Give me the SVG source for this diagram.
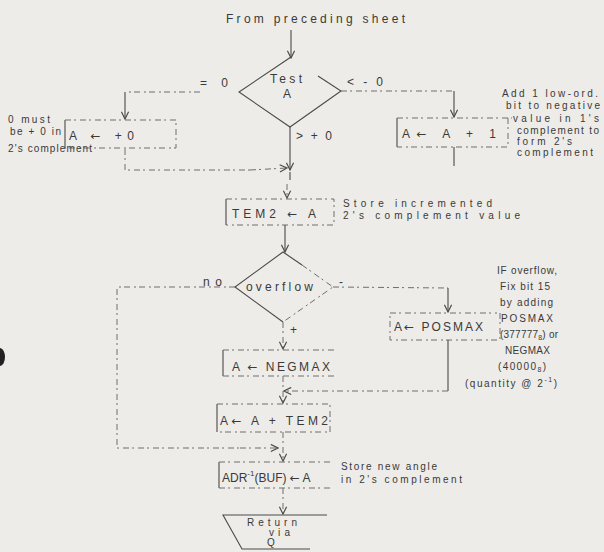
<svg xmlns="http://www.w3.org/2000/svg" width="604" height="552" viewBox="0 0 604 552">
  <style>
    .bg { fill: #edece8; }
    text { font-family: "Liberation Sans", "DejaVu Sans", sans-serif; fill: #3a3a3a; }
    .lbl { font-size: 12px; }
    .note { font-size: 10px; }
    .ar { font-family: "DejaVu Sans", sans-serif; }
    .solid { stroke: #4a4a4a; stroke-width: 1.1; fill: none; }
    .dash { stroke: #6e6e6e; stroke-width: 1; fill: none; stroke-dasharray: 6 3 2 4; }
    .arr { marker-end: url(#vhead); }
  </style>
  <defs>
    <marker id="vhead" viewBox="0 0 10 10" refX="9" refY="5" markerWidth="9" markerHeight="9" markerUnits="userSpaceOnUse" orient="auto">
      <path d="M1,1 L9,5 L1,9" fill="none" stroke="#4a4a4a" stroke-width="1.3"/>
    </marker>
  </defs>

  <rect class="bg" x="0" y="0" width="604" height="552"/>
  <!-- punch hole at the left margin -->
  <ellipse cx="0" cy="357" rx="5" ry="9" fill="#222"/>

  <text class="lbl" x="226" y="23" textLength="179" lengthAdjust="spacing">From preceding sheet</text>

  <!-- decision: Test A -->
  <g id="test-a">
    <path class="solid" d="M318,76 L341,91 L290,127 L239,92 L291,57"/>
    <text class="lbl" x="270" y="83" textLength="32" lengthAdjust="spacing">Test</text>
    <text class="lbl" x="283" y="98">A</text>
    <text class="lbl" x="200" y="87" textLength="28" lengthAdjust="spacing">=0</text>
    <text class="lbl" x="347" y="86" textLength="36" lengthAdjust="spacing">&lt;-0</text>
    <text class="lbl" x="296" y="140" textLength="36" lengthAdjust="spacing">&gt;+0</text>
  </g>

  <!-- A <- +0 -->
  <g id="set-plus-zero">
    <path class="solid" d="M65,120 L65,148"/>
    <path class="dash" d="M65,120 L176,120 L176,148 L65,148"/>
    <text class="lbl" x="69" y="140" textLength="65" lengthAdjust="spacing">A <tspan class="ar">←</tspan> +0</text>
    <text class="note" x="8" y="123" textLength="42" lengthAdjust="spacing">0 must</text>
    <text class="note" x="10" y="135" textLength="51" lengthAdjust="spacing">be + 0 in</text>
    <text class="note" x="8" y="152" textLength="84" lengthAdjust="spacing">2's complement</text>
  </g>

  <!-- A <- A + 1 -->
  <g id="add-one">
    <path class="solid" d="M397,118 L397,147"/>
    <path class="dash" d="M397,118 L512,118 M508,118 L508,147 L397,147"/>
    <text class="lbl" x="402" y="138" textLength="94" lengthAdjust="spacing">A<tspan class="ar">←</tspan> A  +  1</text>
    <text class="note" x="502" y="97" textLength="96" lengthAdjust="spacing">Add 1 low-ord.</text>
    <text class="note" x="506" y="109" textLength="94" lengthAdjust="spacing">bit to negative</text>
    <text class="note" x="513" y="122" textLength="86" lengthAdjust="spacing">value in 1's</text>
    <text class="note" x="517" y="134" textLength="82" lengthAdjust="spacing">complement to</text>
    <text class="note" x="517" y="145" textLength="55" lengthAdjust="spacing">form 2's</text>
    <text class="note" x="517" y="156" textLength="76" lengthAdjust="spacing">complement</text>
  </g>

  <!-- TEM2 <- A -->
  <g id="store-temp">
    <path class="solid" d="M226,199 L226,225"/>
    <path class="dash" d="M226,199 L334,199 L334,225 L226,225"/>
    <text class="lbl" x="232" y="218" textLength="84" lengthAdjust="spacing">TEM2 <tspan class="ar">←</tspan> A</text>
    <text class="note" x="343" y="207" textLength="149" lengthAdjust="spacing">Store incremented</text>
    <text class="note" x="343" y="219" textLength="177" lengthAdjust="spacing">2's complement value</text>
  </g>

  <!-- decision: overflow -->
  <g id="overflow">
    <path class="solid" d="M302,265 L283,252 L235,287 L283,322"/>
    <path class="dash" d="M302,265 L333,287 L283,322"/>
    <text class="lbl" x="246" y="291" textLength="67" lengthAdjust="spacing">overflow</text>
    <text class="lbl" x="203" y="286" textLength="19" lengthAdjust="spacing">no</text>
    <text class="lbl" x="339" y="286">-</text>
    <text class="lbl" x="290" y="334">+</text>
  </g>

  <!-- A <- POSMAX -->
  <g id="posmax">
    <path class="dash" d="M390,313 L497,313 M500,313 L500,340 L390,340 L390,313"/>
    <text class="lbl" x="394" y="331" textLength="89" lengthAdjust="spacing">A<tspan class="ar">←</tspan> POSMAX</text>
    <text class="note" x="497" y="274" textLength="60" lengthAdjust="spacing">IF overflow,</text>
    <text class="note" x="500" y="290" textLength="50" lengthAdjust="spacing">Fix bit 15</text>
    <text class="note" x="500" y="306" textLength="53" lengthAdjust="spacing">by adding</text>
    <text class="note" x="501" y="322" textLength="52" lengthAdjust="spacing">POSMAX</text>
    <text class="note" x="500" y="338" textLength="58" lengthAdjust="spacing">(377777<tspan font-size="7" dy="2">8</tspan><tspan dy="-2">) or</tspan></text>
    <text class="note" x="505" y="354" textLength="45" lengthAdjust="spacing">NEGMAX</text>
    <text class="note" x="498" y="370" textLength="48" lengthAdjust="spacing">(40000<tspan font-size="7" dy="2">8</tspan><tspan dy="-2">)</tspan></text>
    <text class="note" x="465" y="387" textLength="92" lengthAdjust="spacing">(quantity @ 2<tspan font-size="7" dy="-5">-1</tspan><tspan dy="5">)</tspan></text>
  </g>

  <!-- A <- NEGMAX -->
  <g id="negmax">
    <path class="solid" d="M223,350 L223,376"/>
    <path class="dash" d="M223,350 L335,350 M223,376 L335,376"/>
    <text class="lbl" x="232" y="371" textLength="98" lengthAdjust="spacing">A <tspan class="ar">←</tspan> NEGMAX</text>
  </g>

  <!-- A <- A + TEM2 -->
  <g id="add-temp">
    <path class="solid" d="M217,404 L217,432"/>
    <path class="dash" d="M217,404 L330,404 L330,432 L217,432"/>
    <text class="lbl" x="220" y="425" textLength="108" lengthAdjust="spacing">A<tspan class="ar">←</tspan> A + TEM2</text>
  </g>

  <!-- ADR^-1(BUF) <- A -->
  <g id="store-angle">
    <path class="solid" d="M219,462 L219,488"/>
    <path class="dash" d="M219,462 L332,462 M219,488 L332,488"/>
    <text class="lbl" x="222" y="482">ADR<tspan font-size="8" dy="-6">-1</tspan><tspan dy="6">(BUF) </tspan><tspan class="ar">←</tspan> A</text>
    <text class="note" x="341" y="470" textLength="96" lengthAdjust="spacing">Store new angle</text>
    <text class="note" x="341" y="483" textLength="121" lengthAdjust="spacing">in 2's complement</text>
  </g>

  <!-- return terminal -->
  <g id="return">
    <path class="solid" d="M327,515 L223,515 L242,549 L310,549"/>
    <text class="note" x="247" y="526" textLength="50" lengthAdjust="spacing">Return</text>
    <text class="note" x="269" y="536" textLength="21" lengthAdjust="spacing">via</text>
    <text class="note" x="267" y="546">Q</text>
  </g>

  <g id="connectors">
    <path class="solid arr" d="M291,30 L291,58"/>
    <!-- Test A branches -->
    <path class="dash" d="M200,92 L125,92"/>
    <path class="solid arr" d="M125,92 L125,119"/>
    <path class="dash" d="M341,91 L454,91"/>
    <path class="solid arr" d="M454,91 L454,117"/>
    <path class="solid" d="M454,147 L454,166"/>
    <path class="dash" d="M125,149 L125,170 L250,170"/>
    <path class="dash arr" d="M250,170 L287,168"/>
    <path class="solid arr" d="M290,127 L290,170"/>
    <path class="solid" d="M290,172 L290,180"/>
    <path class="dash arr" d="M287,184 L287,198"/>
    <path class="solid arr" d="M285,225 L285,252"/>
    <!-- overflow branches -->
    <path class="dash" d="M235,287 L117,287 L117,448 L240,448"/>
    <path class="dash arr" d="M240,448 L278,448"/>
    <path class="dash" d="M333,287 L448,288"/>
    <path class="solid arr" d="M448,288 L448,312"/>
    <path class="solid" d="M448,340 L448,391"/>
    <path class="dash arr" d="M448,391 L284,391"/>
    <path class="dash arr" d="M283,322 L283,349"/>
    <path class="dash arr" d="M283,376 L283,403"/>
    <path class="dash arr" d="M283,432 L283,461"/>
    <path class="dash arr" d="M283,488 L283,514"/>
  </g>
</svg>
